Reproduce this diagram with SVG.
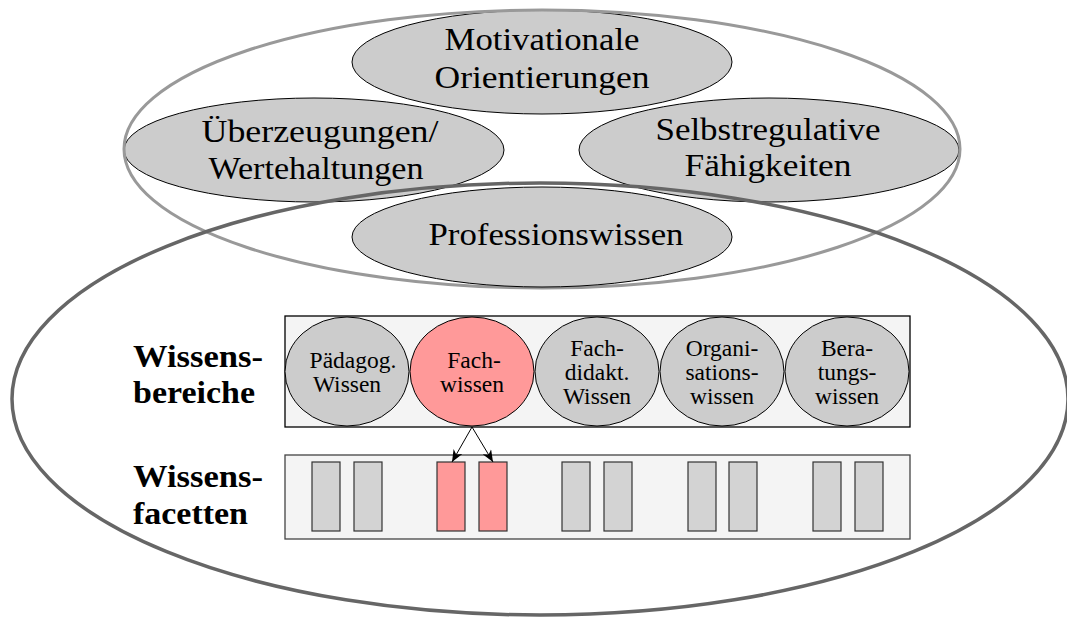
<svg xmlns="http://www.w3.org/2000/svg" width="1067" height="617" viewBox="0 0 1067 617">
<style>
text{font-family:"Liberation Serif","Times New Roman",serif;fill:#000}
.big{font-size:32px;text-anchor:middle}
.sm{font-size:23.5px;text-anchor:middle}
.lbl{font-size:32px;font-weight:bold}
.node{fill:#cccccc;stroke:#000;stroke-width:1}
.circ{fill:#cccccc;stroke:#000;stroke-width:1}
.hi{fill:#ff9999}
.fac{fill:#d3d3d3;stroke:#333;stroke-width:1.2}
.facHi{fill:#ff9999;stroke:#333;stroke-width:1.2}
.conn{stroke:#000;stroke-width:1;fill:none}
</style>
<defs>
<marker id="stealth" viewBox="0 0 12 10" refX="12" refY="5" markerWidth="12" markerHeight="10" markerUnits="userSpaceOnUse" orient="auto">
<path d="M0,0 L12,5 L0,10 L3.5,5 z" fill="#000"/>
</marker>
</defs>
<rect width="1067" height="617" fill="#fff"/>

<g id="motivationale">
<ellipse class="node" cx="542" cy="62" rx="190" ry="52"/>
<text class="big" x="542" y="50" textLength="195" lengthAdjust="spacingAndGlyphs">Motivationale</text>
<text class="big" x="542" y="88" textLength="215" lengthAdjust="spacingAndGlyphs">Orientierungen</text>
</g>
<g id="ueberzeugungen">
<ellipse class="node" cx="314" cy="150" rx="190" ry="52"/>
<text class="big" x="320" y="142" textLength="237" lengthAdjust="spacingAndGlyphs">Überzeugungen/</text>
<text class="big" x="316" y="179" textLength="215" lengthAdjust="spacingAndGlyphs">Wertehaltungen</text>
</g>
<g id="selbstregulative">
<ellipse class="node" cx="769" cy="150" rx="190" ry="52"/>
<text class="big" x="768" y="140" textLength="225" lengthAdjust="spacingAndGlyphs">Selbstregulative</text>
<text class="big" x="768" y="176" textLength="167" lengthAdjust="spacingAndGlyphs">Fähigkeiten</text>
</g>
<g id="kompetenz">
<ellipse cx="542" cy="149" rx="418" ry="139" fill="none" stroke="#999" stroke-width="3"/>
</g>
<g id="professionswissen-bereich">
<ellipse cx="540" cy="399" rx="528" ry="216" fill="none" stroke="#666" stroke-width="3.5"/>
</g>
<g id="professionswissen">
<ellipse class="node" cx="542" cy="237" rx="190" ry="50"/>
<text class="big" x="556" y="245" textLength="255" lengthAdjust="spacingAndGlyphs">Professionswissen</text>
</g>

<g id="wissensbereiche-label">
<text class="lbl" x="133" y="367" textLength="130" lengthAdjust="spacingAndGlyphs">Wissens-</text>
<text class="lbl" x="133" y="403" textLength="122" lengthAdjust="spacingAndGlyphs">bereiche</text>
</g>
<g id="wissensfacetten-label">
<text class="lbl" x="133" y="487" textLength="130" lengthAdjust="spacingAndGlyphs">Wissens-</text>
<text class="lbl" x="133" y="524" textLength="115" lengthAdjust="spacingAndGlyphs">facetten</text>
</g>

<g id="bereiche-box">
<rect x="285" y="316" width="625" height="111" fill="#f4f4f4" stroke="#000" stroke-width="1.3"/>
</g>
<g id="paedagog">
<ellipse class="circ" cx="347" cy="371.5" rx="62" ry="54.5"/>
<text class="sm" x="353" y="368">Pädagog.</text>
<text class="sm" x="347" y="392">Wissen</text>
</g>
<g id="fachwissen">
<ellipse class="circ hi" cx="472" cy="371.5" rx="62" ry="54.5"/>
<text class="sm" x="474" y="368">Fach-</text>
<text class="sm" x="472" y="392">wissen</text>
</g>
<g id="fachdidakt">
<ellipse class="circ" cx="597" cy="371.5" rx="62" ry="54.5"/>
<text class="sm" x="597" y="356">Fach-</text>
<text class="sm" x="597" y="380">didakt.</text>
<text class="sm" x="597" y="404">Wissen</text>
</g>
<g id="organisation">
<ellipse class="circ" cx="722" cy="371.5" rx="62" ry="54.5"/>
<text class="sm" x="722" y="356">Organi-</text>
<text class="sm" x="722" y="380">sations-</text>
<text class="sm" x="722" y="404">wissen</text>
</g>
<g id="beratung">
<ellipse class="circ" cx="847" cy="371.5" rx="62" ry="54.5"/>
<text class="sm" x="847" y="356">Bera-</text>
<text class="sm" x="847" y="380">tungs-</text>
<text class="sm" x="847" y="404">wissen</text>
</g>

<g id="facetten-box">
<rect x="285" y="455" width="625" height="84" fill="#f4f4f4" stroke="#444" stroke-width="1.3"/>
</g>
<g id="facetten">
<rect class="fac" x="312" y="462" width="28" height="69"/>
<rect class="fac" x="354" y="462" width="28" height="69"/>
<rect class="facHi" x="437" y="462" width="28" height="69"/>
<rect class="facHi" x="479" y="462" width="28" height="69"/>
<rect class="fac" x="562" y="462" width="28" height="69"/>
<rect class="fac" x="604" y="462" width="28" height="69"/>
<rect class="fac" x="688" y="462" width="28" height="69"/>
<rect class="fac" x="729" y="462" width="28" height="69"/>
<rect class="fac" x="813" y="462" width="28" height="69"/>
<rect class="fac" x="855" y="462" width="28" height="69"/>
</g>

<g id="connectors">
<line class="conn" x1="472" y1="427" x2="452" y2="462" marker-end="url(#stealth)"/>
<line class="conn" x1="472" y1="427" x2="493" y2="462" marker-end="url(#stealth)"/>
</g>
</svg>
